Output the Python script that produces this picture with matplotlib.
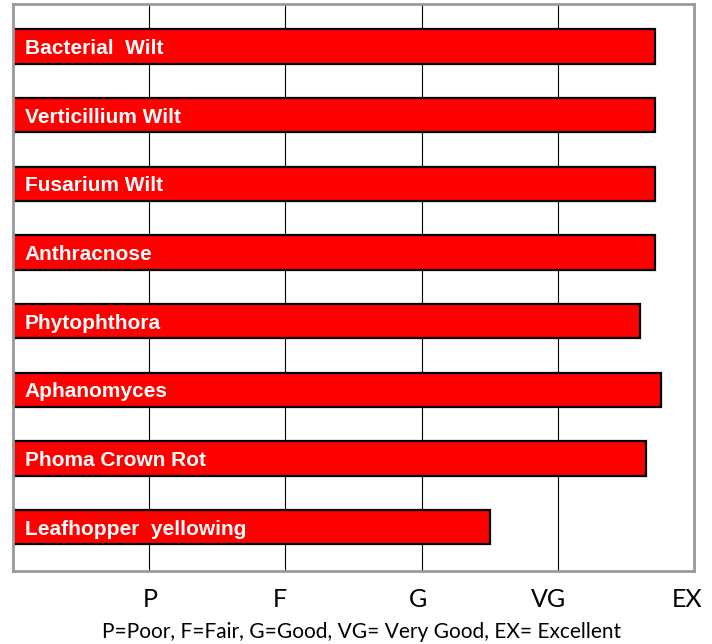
import matplotlib
matplotlib.use("Agg")
import matplotlib.pyplot as plt

# disease resistance ratings (0 = none, 5 = EX)
diseases = ["Bacterial  Wilt", "Verticillium Wilt", "Fusarium Wilt", "Anthracnose",
            "Phytophthora", "Aphanomyces", "Phoma Crown Rot", "Leafhopper  yellowing"]
ratings = [4.71, 4.71, 4.71, 4.71, 4.60, 4.76, 4.65, 3.50]

scale_labels = ["P", "F", "G", "VG", "EX"]
scale_label_pos = [1.01, 1.96, 2.97, 3.93, 4.95]
grid_pos = [1, 2, 3, 4]
caption = "P=Poor, F=Fair, G=Good, VG= Very Good, EX= Excellent"

fig = plt.figure(figsize=(7.12, 6.44), dpi=100)
ax = fig.add_axes([0.0183, 0.1134, 0.9565, 0.8804])

# gridlines behind bars
for g in grid_pos:
    ax.axvline(g, color="black", linewidth=0.8, zorder=0)

y = list(range(len(diseases)))
ax.barh(y, ratings, height=0.5, color="#ff0000", edgecolor="black", linewidth=1.6, zorder=2)

for yi, name in zip(y, diseases):
    ax.text(0.085, yi + 0.03, name, color="white", fontsize=15, fontweight="bold",
            family="Liberation Sans", va="center", ha="left", zorder=3)

ax.set_xlim(0, 5)
ax.set_ylim(7.64, -0.62)
ax.set_yticks([])
ax.set_xticks(scale_label_pos)
ax.set_xticklabels(scale_labels, fontsize=18, family="Lato")
ax.tick_params(axis="x", length=0, pad=12)

for s in ax.spines.values():
    s.set_color("#999999")
    s.set_linewidth(2)

fig.text(0.508, 0.019, caption, ha="center", va="center", fontsize=15, family="Lato")

fig.savefig("out.png", dpi=100)
